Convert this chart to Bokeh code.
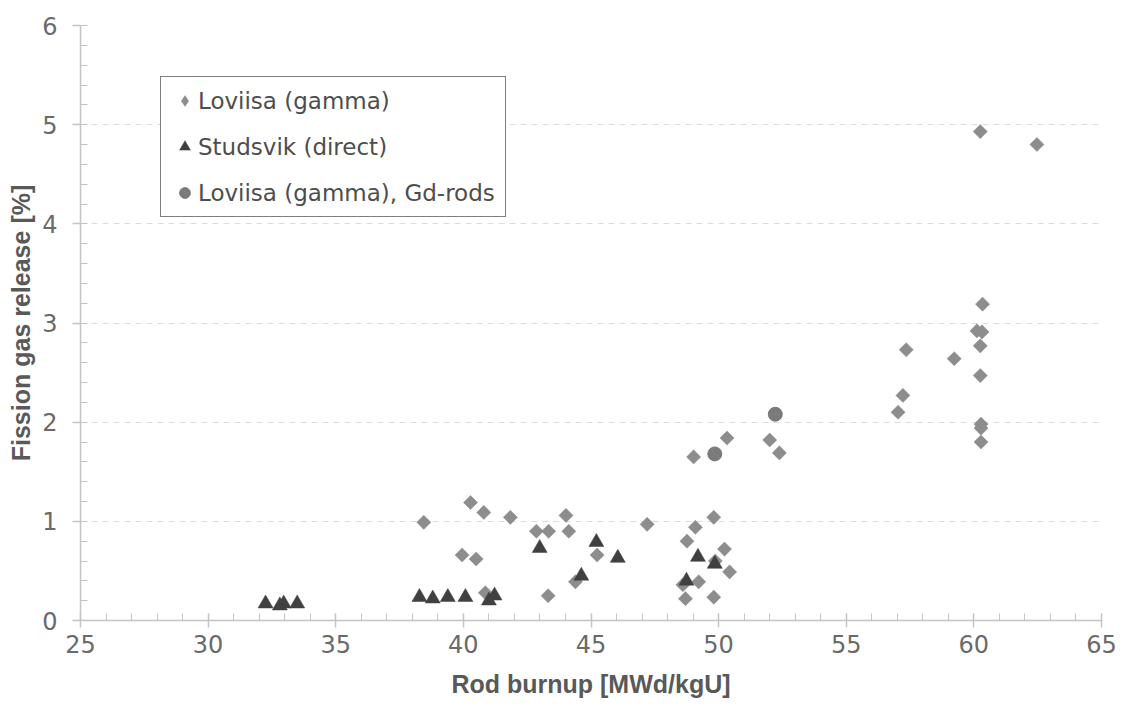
import numpy as np
from bokeh.plotting import figure
from bokeh.models import Range1d, SingleIntervalTicker, Legend, LegendItem
from bokeh.embed import file_html
from bokeh.resources import INLINE

# Loviisa (gamma)
lov_x = [38.45, 40.28, 40.80, 41.84, 42.86, 43.34, 44.02, 44.13, 39.95, 40.50,
         40.86, 43.32, 44.39, 45.24, 47.20, 49.81, 49.09, 48.76, 50.23, 49.87,
         50.43, 49.22, 48.60, 48.70, 49.81, 49.02, 50.33, 52.00, 52.38, 60.34,
         60.12, 60.32, 60.25, 57.35, 59.23, 60.25, 57.22, 57.03, 60.28, 60.28,
         60.28, 60.25, 62.47]
lov_y = [0.99, 1.19, 1.09, 1.04, 0.90, 0.90, 1.06, 0.90, 0.66, 0.62,
         0.28, 0.25, 0.39, 0.66, 0.97, 1.04, 0.94, 0.80, 0.72, 0.60,
         0.49, 0.39, 0.36, 0.22, 0.235, 1.65, 1.84, 1.82, 1.69, 3.19,
         2.92, 2.91, 2.77, 2.73, 2.64, 2.47, 2.27, 2.10, 1.98, 1.94,
         1.80, 4.93, 4.80]

# Studsvik (direct)
stu_x = [32.25, 32.81, 32.96, 33.49, 38.28, 38.80, 39.39, 40.08, 41.00, 41.22,
         42.99, 44.62, 45.21, 46.05, 49.19, 49.85, 48.74]
stu_y = [0.17, 0.15, 0.17, 0.17, 0.235, 0.22, 0.235, 0.235, 0.20, 0.25,
         0.73, 0.45, 0.79, 0.63, 0.64, 0.57, 0.40]

# Loviisa (gamma), Gd-rods
gd_x = [49.85, 52.22]
gd_y = [1.68, 2.08]

x_label = "Rod burnup [MWd/kgU]"
y_label = "Fission gas release [%]"
series_names = ["Loviisa (gamma)", "Studsvik (direct)", "Loviisa (gamma), Gd-rods"]

p = figure(width=1128, height=710, output_backend="svg", toolbar_location=None,
           x_range=Range1d(25, 65), y_range=Range1d(0, 6),
           min_border_left=80, min_border_right=27, min_border_top=25, min_border_bottom=90)
p.outline_line_color = None
p.background_fill_color = "white"
p.border_fill_color = "white"

axis_col = "#c4c4c4"
tick_col = "#6a6a6a"

p.xaxis.ticker = SingleIntervalTicker(interval=5, num_minor_ticks=5)
p.yaxis.ticker = SingleIntervalTicker(interval=1, num_minor_ticks=5)

for ax in (p.xaxis, p.yaxis):
    ax.axis_line_color = axis_col
    ax.axis_line_width = 1.5
    ax.major_tick_line_color = axis_col
    ax.major_tick_line_width = 1.5
    ax.minor_tick_line_color = axis_col
    ax.minor_tick_line_width = 1
    ax.major_label_text_font = "DejaVu Sans"
    ax.major_label_text_font_size = "24px"
    ax.major_label_text_color = tick_col
    ax.axis_label_text_font = "Liberation Sans"
    ax.axis_label_text_font_style = "bold"
    ax.axis_label_text_font_size = "25px"
    ax.axis_label_text_color = "#595959"

p.xaxis.axis_label = x_label
p.yaxis.axis_label = y_label

p.xaxis.major_tick_in = 7
p.xaxis.major_tick_out = 7
p.xaxis.minor_tick_in = 7
p.xaxis.minor_tick_out = 0
p.xaxis.major_label_standoff = 7
p.xaxis.axis_label_standoff = 14

p.yaxis.major_tick_in = 0
p.yaxis.major_tick_out = 8
p.yaxis.minor_tick_in = 7
p.yaxis.minor_tick_out = 0
p.yaxis.major_label_standoff = 15
p.yaxis.axis_label_standoff = 4

p.xgrid.visible = False
p.ygrid.grid_line_color = "#dcdcdc"
p.ygrid.grid_line_dash = "6 5"
p.ygrid.grid_line_width = 1

# legend glyph for the diamond series (legend glyphs are drawn unrotated),
# hidden underneath the rotated squares drawn on top of it
r1_leg = p.scatter(lov_x, lov_y, marker="diamond", size=9,
                   fill_color="#8d8d8d", line_color="#8d8d8d", line_width=0.5)
r1 = p.scatter(lov_x, lov_y, marker="square", angle=np.pi / 4, size=10,
               fill_color="#8d8d8d", line_color="#8d8d8d", line_width=0.5)
r2 = p.scatter(stu_x, stu_y, marker="triangle", size=15,
               fill_color="#404040", line_color="#404040", line_width=0.5)
r3 = p.scatter(gd_x, gd_y, marker="circle", size=14,
               fill_color="#7b7b7b", line_color="#6a6a6a", line_width=0.8)

legend = Legend(items=[LegendItem(label=series_names[0], renderers=[r1_leg]),
                       LegendItem(label=series_names[1], renderers=[r2]),
                       LegendItem(label=series_names[2], renderers=[r3])],
                location=(80, 403), margin=0, padding=10, spacing=19,
                glyph_width=27, glyph_height=27, label_standoff=0,
                label_text_font="DejaVu Sans", label_text_font_size="23px",
                label_text_color="#4d4d4d",
                border_line_color="black", border_line_width=1.5,
                background_fill_color="white", background_fill_alpha=1)
p.add_layout(legend, "center")

open("out.html", "w").write(file_html(p, INLINE))
